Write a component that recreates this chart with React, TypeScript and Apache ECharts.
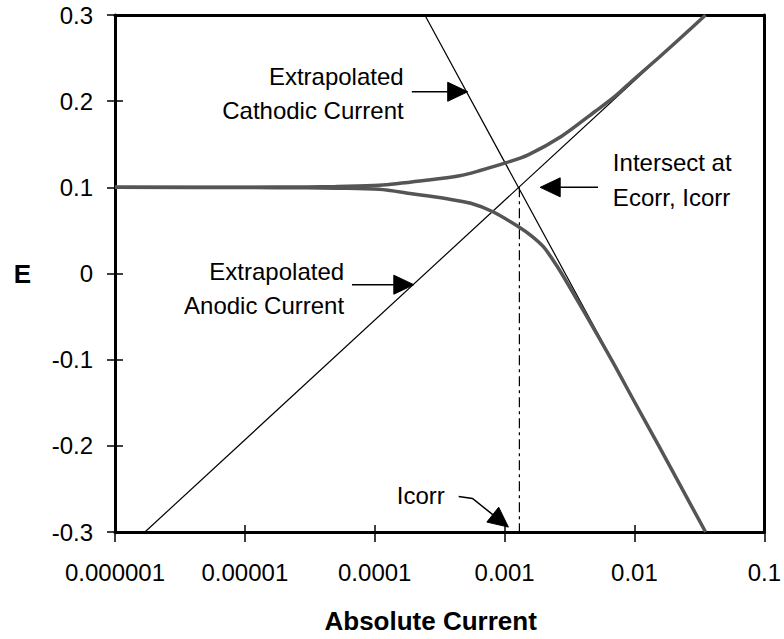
import React, { useEffect, useRef } from 'react';
import * as echarts from 'echarts';

// ---- axis ticks ----
const xTicks = [0.000001, 0.00001, 0.0001, 0.001, 0.01, 0.1];
const xTickLabels = ['0.000001', '0.00001', '0.0001', '0.001', '0.01', '0.1'];
const yTicks = [-0.3, -0.2, -0.1, 0, 0.1, 0.2, 0.3];
const yTickLabels = ['-0.3', '-0.2', '-0.1', '0', '0.1', '0.2', '0.3'];

// ---- measured curve, anodic branch (upper) ----
const upperI = [0.000001, 0.00001, 0.00003, 0.00005, 0.000108, 0.00026, 0.00045, 0.00063, 0.00103, 0.00152, 0.00273, 0.00497, 0.00707, 0.0100, 0.0155, 0.0233, 0.0353];
const upperE = [0.100, 0.1002, 0.1005, 0.1010, 0.1023, 0.1085, 0.1135, 0.1190, 0.1286, 0.1377, 0.1590, 0.188, 0.2055, 0.226, 0.251, 0.275, 0.300];

// ---- measured curve, cathodic branch (lower) ----
const lowerI = [0.000001, 0.00001, 0.00003, 0.00005, 0.000108, 0.000193, 0.00035, 0.00055, 0.00082, 0.00128, 0.0016, 0.00198, 0.00235, 0.00275, 0.00415, 0.00665, 0.0101, 0.0154, 0.0233, 0.0353];
const lowerE = [0.100, 0.0998, 0.0994, 0.0990, 0.0977, 0.0925, 0.0870, 0.0815, 0.0714, 0.0543, 0.0440, 0.0314, 0.016, 0.0, -0.046, -0.100, -0.150, -0.200, -0.250, -0.300];

// ---- extrapolated Tafel lines ----
const anodicLineI = [0.0000017, 0.0353];
const anodicLineE = [-0.3, 0.3];
const cathodicLineI = [0.000243, 0.0353];
const cathodicLineE = [0.3, -0.3];

// ---- Icorr drop line ----
const icorrLineI = [0.0013, 0.0013];
const icorrLineE = [0.1, -0.3];

// ---- annotation texts (data coords of anchor) ----
const annotTexts = ['Extrapolated', 'Cathodic Current', 'Intersect at', 'Ecorr, Icorr', 'Extrapolated', 'Anodic Current', 'Icorr'];
const annotI = [0.000167, 0.000167, 0.00682, 0.00682, 0.0000581, 0.0000581, 0.000148];
const annotE = [0.229, 0.189, 0.1286, 0.0886, 0.0029, -0.0371, -0.2577];
const annotAlign = ['right', 'right', 'left', 'left', 'right', 'right', 'left'];

// ---- arrows: polyline points in data coords, last point is the tip ----
const arrows: [number, number][][] = [
  [[0.000193, 0.2109], [0.00052, 0.2109]],
  [[0.00524, 0.1], [0.00188, 0.1]],
  [[0.0000668, -0.013], [0.0002, -0.013]],
  [[0.000443, -0.2589], [0.000566, -0.2611], [0.00107, -0.2943]],
];

const FONT = '"Liberation Sans", Arial, sans-serif';

function zip(a: number[], b: number[]) {
  return a.map((v, i) => [v, b[i]]);
}

function xFmt(v: number) {
  const i = xTicks.findIndex((t) => Math.abs(t - v) / t < 1e-6);
  return i >= 0 ? xTickLabels[i] : '';
}
function yFmt(v: number) {
  const i = yTicks.findIndex((t) => Math.abs(t - v) < 1e-9);
  return i >= 0 ? yTickLabels[i] : '';
}

export default function App() {
  const ref = useRef<HTMLDivElement>(null);
  useEffect(() => {
    if (!ref.current) return;
    const chart = echarts.init(ref.current, undefined, { renderer: 'svg' });
    const xBase = { type: 'log', logBase: 10, min: 0.000001, max: 0.1, gridIndex: 0, splitLine: { show: false }, minorTick: { show: false } };
    const yBase = { type: 'value', min: -0.3, max: 0.3, interval: 0.1, gridIndex: 0, splitLine: { show: false } };
    const tickStyle = { color: '#000', width: 1.5 };
    const frameLine = { show: true, onZero: false, lineStyle: { color: '#000', width: 3 } };
    const noLine = { show: false, onZero: false };
    chart.setOption({
      animation: false,
      backgroundColor: '#ffffff',
      grid: { left: 115, right: 17, top: 15, bottom: 99 },
      xAxis: [
        {
          ...xBase,
          position: 'bottom',
          name: 'Absolute Current',
          nameLocation: 'middle',
          nameGap: 76,
          nameTextStyle: { fontFamily: FONT, fontSize: 26, fontWeight: 'bold', color: '#000', padding: [0, 18, 0, 0] },
          axisLine: frameLine,
          axisTick: { show: true, length: 10, lineStyle: tickStyle },
          axisLabel: { fontFamily: FONT, fontSize: 24, color: '#000', margin: 28, formatter: xFmt, showMaxLabel: true, showMinLabel: true },
        },
        {
          ...xBase,
          position: 'bottom',
          axisLine: noLine,
          axisTick: { show: true, inside: true, length: 7, lineStyle: tickStyle },
          axisLabel: { show: false },
        },
        {
          ...xBase,
          position: 'top',
          axisLine: frameLine,
          axisTick: { show: false },
          axisLabel: { show: false },
        },
      ],
      yAxis: [
        {
          ...yBase,
          position: 'left',
          name: 'E',
          nameLocation: 'middle',
          nameRotate: 0,
          nameGap: 84,
          nameTextStyle: { fontFamily: FONT, fontSize: 26, fontWeight: 'bold', color: '#000' },
          axisLine: frameLine,
          axisTick: { show: true, length: 8, lineStyle: tickStyle },
          axisLabel: { fontFamily: FONT, fontSize: 24, color: '#000', margin: 22, formatter: yFmt },
        },
        {
          ...yBase,
          position: 'left',
          axisLine: noLine,
          axisTick: { show: true, inside: true, length: 8, lineStyle: tickStyle },
          axisLabel: { show: false },
        },
        {
          ...yBase,
          position: 'right',
          axisLine: frameLine,
          axisTick: { show: false },
          axisLabel: { show: false },
        },
      ],
      series: [
        {
          name: 'Extrapolated Anodic', type: 'line', xAxisIndex: 0, yAxisIndex: 0,
          data: zip(anodicLineI, anodicLineE), showSymbol: false, symbol: 'none',
          lineStyle: { color: '#000', width: 1.2 }, z: 2,
        },
        {
          name: 'Extrapolated Cathodic', type: 'line', xAxisIndex: 0, yAxisIndex: 0,
          data: zip(cathodicLineI, cathodicLineE), showSymbol: false, symbol: 'none',
          lineStyle: { color: '#000', width: 1.2 }, z: 2,
        },
        {
          name: 'Icorr', type: 'line', xAxisIndex: 0, yAxisIndex: 0,
          data: zip(icorrLineI, icorrLineE), showSymbol: false, symbol: 'none',
          lineStyle: { color: '#000', width: 1.2, type: [10, 4, 3, 4] }, z: 2,
        },
        {
          name: 'Anodic branch', type: 'line', xAxisIndex: 0, yAxisIndex: 0,
          data: zip(upperI, upperE), showSymbol: false, symbol: 'none', smooth: 0.3,
          lineStyle: { color: '#555555', width: 3.5 }, z: 3,
        },
        {
          name: 'Cathodic branch', type: 'line', xAxisIndex: 0, yAxisIndex: 0,
          data: zip(lowerI, lowerE), showSymbol: false, symbol: 'none', smooth: 0.3,
          lineStyle: { color: '#555555', width: 3.5 }, z: 3,
        },
      ],
    });

    const px = (p: [number, number]) => chart.convertToPixel({ xAxisIndex: 0, yAxisIndex: 0 }, p) as number[];
    const graphic: any[] = [];
    annotTexts.forEach((t, i) => {
      const [x, y] = px([annotI[i], annotE[i]]);
      graphic.push({
        type: 'text', x, y, z: 10,
        style: { text: t, fill: '#000', font: `24px ${FONT}`, align: annotAlign[i], verticalAlign: 'middle' },
      });
    });
    arrows.forEach((pts) => {
      const pp = pts.map((p) => px(p));
      const tip = pp[pp.length - 1];
      const prev = pp[pp.length - 2];
      const dx = tip[0] - prev[0];
      const dy = tip[1] - prev[1];
      const len = Math.hypot(dx, dy);
      const ux = dx / len, uy = dy / len;
      const hl = 20, hw = 9.5;
      const bx = tip[0] - ux * hl, by = tip[1] - uy * hl;
      const shaft = pp.slice(0, -1).concat([[bx, by]]);
      graphic.push({ type: 'polyline', z: 10, shape: { points: shaft }, style: { stroke: '#000', lineWidth: 1.5, fill: 'none' } });
      graphic.push({
        type: 'polygon', z: 10,
        shape: { points: [tip, [bx - uy * hw, by + ux * hw], [bx + uy * hw, by - ux * hw]] },
        style: { fill: '#000', stroke: '#000', lineWidth: 1 },
      });
    });
    chart.setOption({ graphic });

    return () => chart.dispose();
  }, []);
  return <div ref={ref} style={{ position: 'fixed', left: 0, top: 0, width: 784, height: 639 }} />;
}
